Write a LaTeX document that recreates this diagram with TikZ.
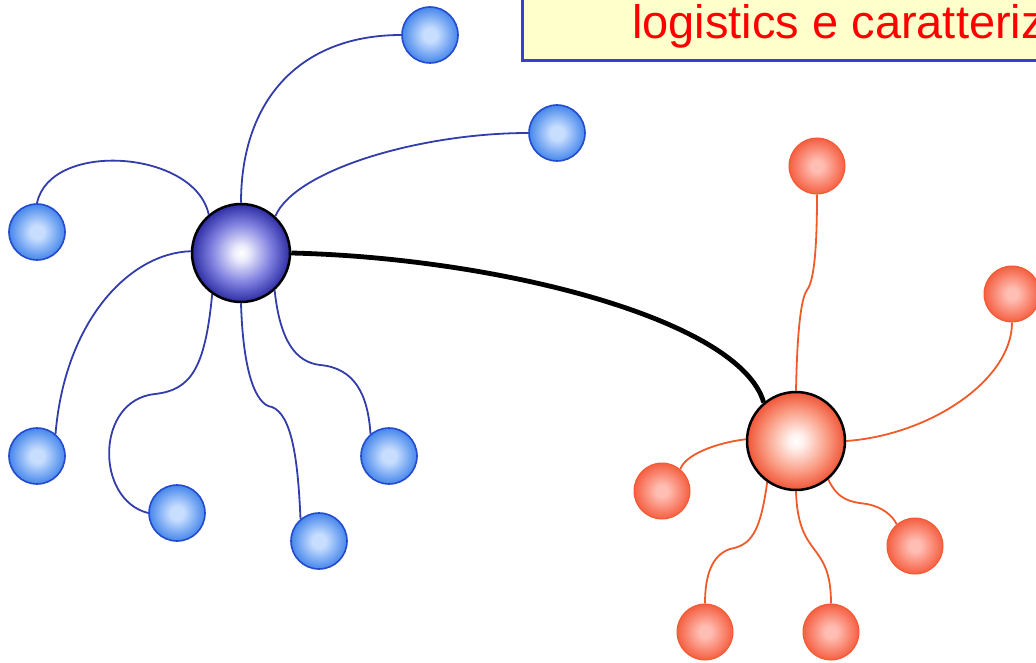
\documentclass[tikz,border=0pt]{standalone}
\usepackage{fontspec}
\newfontfamily\titlefont{Liberation Sans}
\usetikzlibrary{backgrounds}

% palette
\definecolor{hubblueedge}{RGB}{45,45,165}
\definecolor{hubbluemid}{RGB}{130,130,225}
\definecolor{hubbluecore}{RGB}{235,235,252}
\definecolor{leafblueedge}{RGB}{70,135,235}
\definecolor{leafbluecore}{RGB}{200,222,255}
\definecolor{leafblueline}{RGB}{35,75,205}
\definecolor{linkblue}{RGB}{50,60,170}
\definecolor{hubrededge}{RGB}{240,85,55}
\definecolor{hubredmid}{RGB}{250,155,130}
\definecolor{hubredcore}{RGB}{255,240,236}
\definecolor{leafrededge}{RGB}{245,95,65}
\definecolor{leafredcore}{RGB}{255,190,180}
\definecolor{leafredline}{RGB}{240,90,50}
\definecolor{linkred}{RGB}{240,90,40}
\definecolor{boxfill}{RGB}{255,255,204}
\definecolor{boxline}{RGB}{60,60,210}

% ball shadings
\pgfdeclareradialshading{hubblueball}{\pgfpoint{0bp}{0bp}}{color(0bp)=(white); color(4bp)=(hubbluecore); color(15bp)=(hubbluemid); color(25bp)=(hubblueedge); color(50bp)=(hubblueedge)}
\pgfdeclareradialshading{leafblueball}{\pgfpoint{0bp}{0bp}}{color(0bp)=(leafbluecore); color(6bp)=(leafbluecore); color(25bp)=(leafblueedge); color(50bp)=(leafblueedge)}
\pgfdeclareradialshading{hubredball}{\pgfpoint{0bp}{0bp}}{color(0bp)=(white); color(4bp)=(hubredcore); color(16bp)=(hubredmid); color(25bp)=(hubrededge); color(50bp)=(hubrededge)}
\pgfdeclareradialshading{leafredball}{\pgfpoint{0bp}{0bp}}{color(0bp)=(leafredcore); color(5bp)=(leafredcore); color(25bp)=(leafrededge); color(50bp)=(leafrededge)}

\tikzset{
  hubb/.style={circle, inner sep=0pt, minimum size=98pt, shading=hubblueball, draw=black, line width=2.5pt},
  leafb/.style={circle, inner sep=0pt, minimum size=56pt, shading=leafblueball, draw=leafblueline, line width=1.6pt},
  hubr/.style={circle, inner sep=0pt, minimum size=98pt, shading=hubredball, draw=black, line width=2.5pt},
  leafr/.style={circle, inner sep=0pt, minimum size=56pt, shading=leafredball, draw=leafredline, line width=1pt},
  bluelink/.style={draw=linkblue, line width=1.8pt},
  redlink/.style={draw=linkred, line width=1.8pt},
  bridge/.style={draw=black, line width=4.8pt},
}

\begin{document}
\begin{tikzpicture}[x=1pt, y=-1pt]
\useasboundingbox (0,0) rectangle (1036,663);
\clip (0,0) rectangle (1036,663);

% title banner running off the page
\draw[fill=boxfill, draw=boxline, line width=3pt] (522,-20) rectangle (1060,61);
\node (title) [anchor=base west, inner sep=0pt, text=red, font=\titlefont\fontsize{47}{56}\selectfont] at (632,39) {logistics e caratteriz};

% blue cluster
\node (bh) [hubb] at (241,253) {};
\node (b1) [leafb] at (430,35) {};
\node (b2) [leafb] at (557,133) {};
\node (b3) [leafb] at (37,232) {};
\node (b4) [leafb] at (37,456) {};
\node (b5) [leafb] at (177,513) {};
\node (b6) [leafb] at (319,541) {};
\node (b7) [leafb] at (389,456) {};

% red cluster
\node (rh) [hubr] at (796,441) {};
\node (r1) [leafr] at (817,166) {};
\node (r2) [leafr] at (1012,294) {};
\node (r3) [leafr] at (662,491) {};
\node (r4) [leafr] at (915,546) {};
\node (r5) [leafr] at (705,632) {};
\node (r6) [leafr] at (831,632) {};

\begin{scope}[on background layer]
  % blue links
  \draw[bluelink] (bh.90) .. controls (241,100) and (300,35) .. (b1.west);
  \draw[bluelink] (bh.47) .. controls (295,170) and (420,133) .. (b2.west);
  \draw[bluelink] (bh.130) .. controls (195,150) and (50,140) .. (b3.north);
  \draw[bluelink] (bh.178) .. controls (130,253) and (65,320) .. (b4.50);
  \draw[bluelink] (bh.235) .. controls (205,370) and (190,390) .. (155,394)
                            .. controls (95,400) and (95,500) .. (b5.west);
  \draw[bluelink] (bh.270) .. controls (243,370) and (255,405) .. (272,407)
                            .. controls (292,415) and (298,460) .. (b6.130);
  \draw[bluelink] (bh.-48) .. controls (280,340) and (295,362) .. (320,365)
                            .. controls (355,368) and (368,395) .. (b7.130);
  % red links
  \draw[redlink] (rh.90) .. controls (797,340) and (800,300) .. (807,290)
                           .. controls (815,280) and (817,240) .. (r1.south);
  \draw[redlink] (rh.0) .. controls (930,435) and (1012,380) .. (r2.south);
  \draw[redlink] (rh.178) .. controls (715,443) and (685,455) .. (r3.50);
  \draw[redlink] (rh.235) .. controls (760,535) and (750,545) .. (730,549)
                            .. controls (712,555) and (705,575) .. (r5.north);
  \draw[redlink] (rh.270) .. controls (798,560) and (831,540) .. (r6.north);
  \draw[redlink] (rh.-50) .. controls (838,500) and (850,502) .. (867,504)
                            .. controls (882,507) and (892,515) .. (r4.130);
  % link between the two hubs
  \draw[bridge] (bh.0) .. controls (500,258) and (740,320) .. (rh.130);
\end{scope}
\end{tikzpicture}
\end{document}
